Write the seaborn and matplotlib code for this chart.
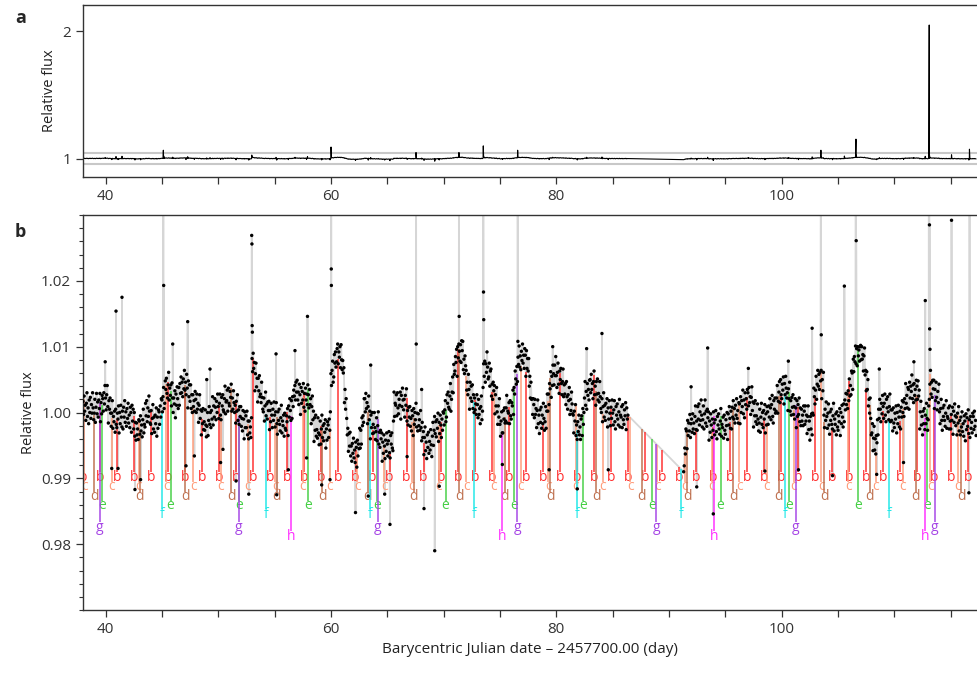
import numpy as np
import matplotlib
matplotlib.use("Agg")
import matplotlib.pyplot as plt
from matplotlib.ticker import MultipleLocator
import seaborn as sns

# K2 light curve of TRAPPIST-1, flux deviation in units of 1e-4,
# one row per day at 0.05 d cadence (BJD - 2457700)
cadence = 0.05
rows_1_start = 38.0
rows_1 = [
    [17, -3, 25, 2, 11, -12, 14, 30, -6, 7, -17, 19, 0, 23, -9, 12, -1, 30, 7, -11],            # 38
    [-1, 20, -15, 8, 29, -2, 16, -7, 19, 6, 29, -14, 15, -2, 26, 21, 2, 30, 13, 41],
    [22, 4, 27, 41, 9, -16, 18, 5, 22, -1, -21, -1, 18, -24, -6, -14, 2, -30, 5, -18],         # 40
    [-23, -1, -10, 10, -31, 0, -17, 11, -7, -22, 2, -25, 8, -7, 18, -15, 1, -21, 6, -9],
    [14, -16, -4, -23, 8, 0, -30, 11, -13, 5, -25, 0, -36, -15, -42, -16, -34, -25, -41, -11],
    [-13, -33, -5, -28, -19, -37, -11, 5, -31, -18, -22, 14, -5, 18, -14, 7, -6, 25, 2, -16],
    [-18, 3, -32, -9, 12, -25, -7, -30, -4, -17, 7, -36, -7, -24, 4, 1, -18, 10, -7, 21],
    [19, 1, 24, 38, 6, 14, 48, 35, 52, 29, 22, 42, 61, 19, 37, 26, 42, 10, 45, 22],             # 45
    [0, 22, 13, 33, -8, 28, 11, 39, 21, 6, 38, 11, 44, 29, 54, 30, 46, 24, 51, 36],
    [64, 34, 46, 27, 58, 37, 7, 48, 24, 42, 17, 42, 6, 27, 0, 27, 9, 18, 2, 32],
    [20, 0, 28, 5, 14, -15, 11, 27, -9, 4, -34, 2, -17, 6, -26, -14, -27, 4, -19, -37],
    [-21, 0, -35, -12, 9, -18, 0, -23, 3, -10, 24, -19, 10, -7, 21, 8, -11, 17, 0, 28],
    [9, -9, 14, 28, -4, -11, 23, 10, 27, 4, 1, 21, 40, -2, 16, 18, 34, 2, 37, 14],              # 50
    [10, 32, 23, 43, 2, 22, 5, 33, 15, 0, 11, -16, 17, 2, 27, -12, 4, -18, 9, -6],
    [9, -21, -9, -28, 3, -10, -40, 1, -23, -5, -23, 2, -34, -13, -40, -13, -31, -22, -38, -8],
    [82, 62, 90, 67, 76, 33, 59, 75, 39, 52, 16, 52, 33, 56, 24, 28, 15, 46, 23, 5],
    [1, 22, -13, 10, 31, -5, 13, -10, 16, 3, 17, -26, 3, -14, 14, -4, -23, 5, -12, 16],
    [-4, -22, 1, 15, -17, -33, 1, -12, 5, -18, -28, -8, 11, -31, -13, -20, -4, -36, -1, -24],   # 55
    [-27, -5, -14, 6, -35, 10, -7, 21, 3, -12, 18, -9, 24, 9, 34, 25, 41, 19, 46, 31],
    [49, 19, 31, 12, 43, 27, -3, 38, 14, 32, 19, 44, 8, 29, 2, 37, 19, 28, 12, 42],
    [27, 7, 35, 12, 21, -17, 9, 25, -11, 2, -44, -8, -27, -4, -36, -26, -39, -8, -31, -49],
    [-34, -13, -48, -25, -4, -38, -20, -43, -17, -30, -11, -54, -25, -42, -14, -19, -38, -10, -27, 1],
    [59, 41, 64, 78, 46, 54, 88, 75, 92, 69, 77, 97, 104, 74, 92, 84, 100, 68, 103, 80],      # 60
    [65, 79, 60, 68, 15, 35, 5, 21, -9, -34, -24, -59, -32, -51, -30, -66, -51, -74, -47, -62],
    [-39, -69, -57, -76, -45, -53, -83, -42, -66, -48, -55, -24, -54, -27, -48, -8, -20, -5, -15, 21],
    [21, 1, 29, 6, 15, -17, 9, 25, -11, 2, -40, -4, -23, 0, -32, -18, -31, 0, -23, -41],
    [-29, -8, -43, -20, 1, -48, -30, -53, -27, -40, -31, -74, -45, -62, -34, -51, -70, -42, -59, -31],
    [-48, -66, -43, -29, -61, -69, -35, -48, -31, -54, -58, -13, 31, -6, 14, 11, 27, -5, 30, 7],  # 65
    [-2, 20, 11, 31, -10, 26, 9, 37, 19, 4, 20, -7, 26, 11, 36, -13, 3, -19, 8, -7],
    [9, -21, -9, -28, 3, -5, -35, 6, -18, 0, -11, 14, -22, -1, -28, -2, -20, -11, -27, 3],
    [-23, -43, -15, -38, -29, -64, -38, -22, -58, -45, -70, -34, -53, -30, -62, -44, -57, -26, -49, -67],
    [-36, -15, -50, -27, -6, -32, -14, -37, -11, -24, -1, -44, -15, -32, -4, -19, -38, -10, -27, 1],
    [-1, -19, 4, 18, -14, -7, 27, 14, 31, 8, 5, 25, 44, 2, 20, 31, 54, 30, 73, 58],             # 70
    [63, 85, 76, 96, 55, 100, 83, 104, 93, 78, 103, 76, 109, 94, 108, 65, 81, 59, 86, 71],
    [64, 34, 46, 27, 58, 35, 5, 46, 22, 40, 17, 42, 6, 27, 0, 22, 4, 13, -3, 27],
    [12, -8, 20, -3, 6, -17, 9, 25, -11, 2, 38, 74, 55, 78, 46, 74, 61, 92, 69, 51],
    [54, 75, 40, 63, 66, 25, 43, 20, 46, 33, 41, -2, 27, 10, 38, 1, -18, 10, -7, 21],
    [-18, -36, -13, 1, -31, -31, 3, -10, 7, -16, -13, 7, 26, -16, 2, -1, 15, -17, 18, -5],       # 75
    [-10, 15, 10, 34, -3, 38, 28, 63, 51, 43, 70, 47, 84, 73, 101, 69, 86, 65, 93, 79],
    [104, 75, 87, 67, 97, 87, 55, 94, 67, 82, 63, 82, 40, 55, 22, 46, 20, 21, -3, 21],
    [12, -8, 20, -3, 6, -23, 3, 19, -17, -4, -32, 4, -15, 8, -24, -4, -17, 14, -9, -27],
    [-14, 9, -24, 2, 28, 2, 28, 12, 44, 36, 62, 23, 55, 41, 72, 59, 42, 72, 56, 85],
    [56, 38, 61, 75, 43, 29, 63, 50, 67, 44, 27, 47, 66, 24, 42, 28, 44, 12, 47, 24],           # 80
    [5, 27, 18, 38, -3, 20, 3, 31, 13, -2, -4, -31, 2, -13, 12, -35, -19, -41, -14, -29],
    [-4, -34, -22, -41, -10, -5, -35, 6, -18, 0, 22, 47, 11, 32, 5, 44, 26, 35, 19, 49],
    [50, 30, 58, 35, 44, 21, 47, 63, 27, 40, 11, 47, 28, 51, 19, 29, 16, 47, 24, 6],
    [0, 21, -14, 9, 30, -7, 11, -12, 14, 1, 21, -22, 7, -10, 18, -1, -20, 8, -9, 19],
    [-1, -19, 4, 18, -14, -25, 9, -4, 13, -10, -19, 1, 20, -22, -4, -7, 9, -23, 12, -11],      # 85
    [-18, 4, -5, 15, -26, 7, -10, -4],
]

rows_2_start = 91.3
rows_2 = [
    [-90, -81, -54, -63, -25, -28, -55, -12, -35, -16, -28, -3, -38, -17],                       # 91.3
    [-10, -30, -2, -25, -16, -32, -6, 10, -26, -13, -27, 9, -10, 13, -19, 1, -12, 19, -4, -22],
    [-11, 10, -25, -2, 19, -16, 2, -21, 5, -8, 1, -42, -13, -30, -2, -19, -38, -10, -27, 1],
    [-16, -34, -11, 3, -29, -40, -6, -19, -2, -25, -33, -13, 6, -36, -18, -23, -7, -39, -4, -27],
    [-33, -11, -20, 0, -41, -2, -19, 9, -9, -24, 2, -25, 8, -7, 18, -10, 6, -16, 11, -4],       # 95
    [21, -9, 3, -16, 15, 13, -17, 24, 0, 18, 9, 34, -2, 19, -8, 30, 12, 21, 5, 35],
    [30, 10, 38, 15, 24, -3, 23, 39, 3, 16, -22, 14, -5, 18, -14, -5, -18, 13, -10, -28],
    [-16, 5, -30, -7, 14, -18, 0, -23, 3, -10, 12, -31, -2, -19, 9, 1, -18, 10, -7, 21],
    [7, -11, 12, 26, -6, -16, 18, 5, 22, -1, 2, 22, 41, -1, 17, 31, 47, 15, 50, 27],
    [21, 43, 34, 54, 13, 44, 27, 55, 37, 22, 30, 3, 36, 21, 46, 2, 18, -4, 23, 8],              # 100
    [27, -3, 9, -10, 21, 7, -23, 18, -6, 12, -3, 22, -14, 7, -20, 5, -13, -4, -20, 10],
    [2, -18, 10, -13, -4, -32, -6, 10, -26, -13, -42, -6, -25, -2, -34, -1, -4, 37, 24, 13],
    [34, 55, 20, 43, 64, 40, 58, 35, 61, 48, 64, 21, 50, 33, 61, -4, -23, 5, -12, 16],
    [-6, -24, -1, 13, -19, -33, 1, -12, 5, -18, -25, -5, 14, -28, -10, -18, -2, -34, 1, -22],
    [-27, -5, -14, 6, -35, 0, -17, 11, -7, -22, 13, -14, 19, 4, 29, 12, 28, 6, 33, 18],         # 105
    [51, 25, 41, 27, 63, 60, 35, 81, 62, 85, 77, 101, 74, 97, 71, 100, 86, 95, 78, 100],
    [102, 80, 100, 81, 88, 63, 86, 98, 57, 64, 33, 62, 35, 50, 10, 20, -1, 22, -9, -34],
    [-31, -17, -58, -39, -21, -57, -40, -63, -35, -46, -11, -34, 5, -9, 20, 5, -14, 14, -2, 26],
    [9, -9, 14, 28, -4, -14, 20, 7, 24, 1, -11, 9, 28, -14, 4, -12, 4, -28, 7, -16],
    [-23, -1, -10, 10, -31, 0, -17, 11, -7, -22, 2, -25, 8, -7, 18, 0, 16, -6, 21, 6],          # 110
    [44, 14, 26, 7, 38, 35, 5, 46, 22, 40, 32, 57, 21, 42, 15, 44, 26, 35, 19, 49],
    [40, 20, 48, 25, 34, -25, 1, 17, -19, -6, -34, 2, -17, 6, -26, -4, -17, 14, -9, -27],
    [-11, 10, 20, 43, 64, 28, 46, 23, 49, 36, 49, 6, 35, 18, 46, 23, 4, 32, 15, 43],
    [1, -17, 6, 20, -12, -27, 7, -6, 11, -12, -21, -1, 18, -24, -6, -9, 7, -25, 10, -13],
    [-25, -3, -12, 8, -33, 2, -15, 13, -5, -20, -7, -34, -1, -16, 9, -28, -12, -34, -7, -22],   # 115
    [1, -29, -17, -36, -5, -13, -43, -2, -26, -8, -21, 4, -32, -11, -38, -6, -24, -15, -31, -1],
    [-6, -26, 2, -21, -12, -35],
]

# flares and single-cadence outliers
outlier_t = [39.97, 40.93, 41.46, 45.13, 45.16, 45.96, 47.29, 48.98, 49.27,
             52.97, 52.99, 53.01, 53.03, 55.13, 56.81, 57.92, 60.01, 60.03,
             60.04, 63.53, 67.55, 67.57, 68.05, 71.36, 71.38, 73.52, 73.54,
             73.56, 76.57, 76.59, 79.68, 82.69, 84.05, 91.96, 93.43, 97.04,
             100.59, 102.70, 103.48, 103.51, 105.56, 106.59, 106.61, 108.66,
             111.73, 112.74, 113.09, 113.11, 113.13, 113.16, 115.07, 116.66,
             40.55, 41.11, 42.61, 43.11, 47.14, 47.88, 50.21, 50.42, 51.58,
             52.71, 55.19, 56.22, 57.84, 59.18, 59.92, 62.18, 63.31, 64.77,
             65.24, 66.76, 68.26, 69.21, 69.61, 75.21, 79.36, 81.86, 84.61,
             92.46, 93.93, 98.51, 101.49, 104.51, 108.43, 110.81, 116.61]
outlier_f = [1.0077, 1.0154, 1.0175, 1.065, 1.0193, 1.0104, 1.0138, 1.0050, 1.0066,
             1.0269, 1.0256, 1.0132, 1.0122, 1.0089, 1.0094, 1.0146, 1.090, 1.0218,
             1.0193, 1.0072, 1.047, 1.0104, 1.0035, 1.047, 1.0146, 1.099, 1.0183,
             1.0141, 1.065, 1.0108, 1.0100, 1.0097, 1.0120, 1.0039, 1.0098, 1.0067,
             1.0078, 1.0128, 1.065, 1.0118, 1.0192, 1.152, 1.0261, 1.0066,
             1.0077, 1.0170, 2.047, 1.0285, 1.0127, 1.0096, 1.0292, 1.073,
             0.9915, 0.9915, 0.9883, 0.9898, 0.9919, 0.9934, 0.9924, 0.9944, 0.9896,
             0.9876, 0.9875, 0.9913, 0.9931, 0.9890, 0.9898, 0.9848, 0.9873, 0.9876,
             0.9830, 0.9933, 0.9854, 0.9790, 0.9888, 0.9921, 0.9913, 0.9884, 0.9913,
             0.9887, 0.9846, 0.9911, 0.9913, 0.9904, 0.9906, 0.9924, 0.9878]

# transit times of the seven planets (BJD - 2457700)
transit_b = [38.007, 39.518, 41.029, 42.540, 44.050, 45.561, 47.072, 48.583, 50.094,
             51.605, 53.116, 54.627, 56.137, 57.648, 59.159, 60.670, 62.181, 63.692,
             65.203, 66.714, 68.224, 69.735, 71.246, 72.757, 74.268, 75.779, 77.290,
             78.800, 80.311, 81.822, 83.333, 84.844, 86.355, 87.866, 89.377, 90.887,
             92.398, 93.909, 95.420, 96.931, 98.442, 99.953, 101.464, 102.974,
             104.485, 105.996, 107.507, 109.018, 110.529, 112.040, 113.551,
             115.061, 116.572]
transit_c = [38.110, 40.532, 42.954, 45.375, 47.797, 50.219, 52.641, 55.063, 57.485,
             59.906, 62.328, 64.750, 67.172, 69.594, 72.015, 74.437, 76.859, 79.281,
             81.703, 84.125, 86.546, 88.968, 91.390, 93.812, 96.234, 98.656, 101.077,
             103.499, 105.921, 108.343, 110.765, 113.186, 115.608]
transit_d = [38.985, 43.035, 47.084, 51.134, 55.183, 59.233, 63.283, 67.332, 71.382,
             75.431, 79.481, 83.531, 87.580, 91.630, 95.680, 99.729, 103.779,
             107.828, 111.878, 115.928]
transit_e = [39.674, 45.773, 51.873, 57.973, 64.072, 70.172, 76.272, 82.371, 88.471,
             94.571, 100.670, 106.770, 112.870]
transit_f = [45.051, 54.258, 63.464, 72.671, 81.878, 91.084, 100.291, 109.498]
transit_g = [39.467, 51.820, 64.173, 76.526, 88.879, 101.232, 113.585]
transit_h = [56.43, 75.20, 93.97, 112.74]

planets = ["b", "c", "d", "e", "f", "g", "h"]
planet_transits = [transit_b, transit_c, transit_d, transit_e, transit_f, transit_g, transit_h]
planet_colors = ["#ff3030", "#ff9c7a", "#bf7150", "#46d046", "#22e8e8", "#a646e6", "#ff30ff"]
label_levels = [0.9902, 0.9887, 0.9872, 0.9858, 0.9845, 0.9825, 0.9812]


def day_series(rows, first_time):
    t, f = [], []
    for i, row in enumerate(rows):
        start = first_time if i == 0 else np.floor(first_time) + i
        for j, v in enumerate(row):
            t.append(round(start + cadence * j, 3))
            f.append(1 + v * 1e-4)
    return t, f


t1, f1 = day_series(rows_1, rows_1_start)
t2, f2 = day_series(rows_2, rows_2_start)
t_base = np.array(t1 + t2)
f_base = np.array(f1 + f2)

t_all = np.concatenate([t_base, outlier_t])
f_all = np.concatenate([f_base, outlier_f])
order = np.argsort(t_all, kind="stable")
t_all, f_all = t_all[order], f_all[order]

sns.set_style("ticks")
plt.rcParams["font.family"] = ["Open Sans", "DejaVu Sans"]
plt.rcParams["axes.edgecolor"] = "#333333"
plt.rcParams["xtick.color"] = "#333333"
plt.rcParams["ytick.color"] = "#333333"
plt.rcParams["axes.labelcolor"] = "#222222"

fig = plt.figure(figsize=(9.77, 6.74), dpi=100)
ax_a = fig.add_axes([83 / 977, 1 - 177 / 674, 1 - 83 / 977, 172 / 674])
ax_b = fig.add_axes([83 / 977, 1 - 610 / 674, 1 - 83 / 977, 395 / 674])
xlim = (38.0, 117.33)

# panel a: full light curve
ax_a.axhline(1.04, color="#c8c8c8", lw=1.5, zorder=1)
ax_a.axhline(0.96, color="#c8c8c8", lw=1.5, zorder=1)
sns.lineplot(x=t_all, y=f_all, ax=ax_a, color="black", lw=0.8,
             estimator=None, sort=False, zorder=2)
ax_a.set_xlim(*xlim)
ax_a.set_ylim(0.855, 2.204)
ax_a.set_yticks([1, 2])
ax_a.set_yticklabels(["1", "2"])
ax_a.set_ylabel("Relative flux", fontsize=10.5)

# panel b: zoom with transit markers
sns.lineplot(x=t_all, y=f_all, ax=ax_b, color="#d6d6d6", lw=1.3,
             estimator=None, sort=False, zorder=1)
for name, times, col, level in zip(planets, planet_transits, planet_colors, label_levels):
    times = np.array(times)
    tops = np.interp(times, t_base, f_base)
    ax_b.vlines(times, level + 0.0008, tops, colors=col, lw=1.2, alpha=0.9, zorder=2)
    for tt in times:
        ax_b.text(tt, level, name, color=col, fontsize=10, ha="center", va="center",
                  clip_on=True, zorder=2)
sns.scatterplot(x=t_all, y=f_all, ax=ax_b, color="black", s=6, edgecolor="none",
                linewidth=0, zorder=3)
ax_b.set_xlim(*xlim)
ax_b.set_ylim(0.970, 1.030)
ax_b.set_yticks([0.98, 0.99, 1.00, 1.01, 1.02])
ax_b.set_yticklabels(["0.98", "0.99", "1.00", "1.01", "1.02"])
ax_b.yaxis.set_minor_locator(MultipleLocator(0.002))
ax_b.set_ylabel("Relative flux", fontsize=10.5)
ax_b.set_xlabel("Barycentric Julian date \u2013 2457700.00 (day)", fontsize=11)

for ax in (ax_a, ax_b):
    ax.set_xticks([40, 60, 80, 100])
    ax.set_xticklabels(["40", "60", "80", "100"])
    ax.xaxis.set_minor_locator(MultipleLocator(5))
    ax.tick_params(axis="both", which="major", labelsize=11, length=5, width=0.9)
    ax.tick_params(axis="x", which="minor", length=5, width=0.9)
    ax.tick_params(axis="y", which="minor", length=3, width=0.8)
    ax.spines["right"].set_visible(False)
    for s in ("left", "top", "bottom"):
        ax.spines[s].set_linewidth(1.0)

fig.text(15 / 977, 1 - 18 / 674, "a", fontsize=13, fontweight="bold", va="center")
fig.text(15 / 977, 1 - 232 / 674, "b", fontsize=13, fontweight="bold", va="center")

fig.savefig("out.png", dpi=100)
